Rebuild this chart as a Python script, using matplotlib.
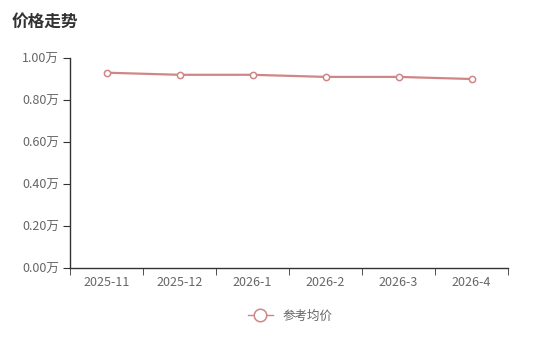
import numpy as np
import matplotlib.pyplot as plt
from matplotlib.ticker import FuncFormatter

plt.rcParams['font.family'] = ['Noto Sans CJK SC', 'DejaVu Sans']

# data (unit: 万)
months = ['2025-11', '2025-12', '2026-1', '2026-2', '2026-3', '2026-4']
price = [0.93, 0.92, 0.92, 0.91, 0.91, 0.90]
yticks = [0.0, 0.2, 0.4, 0.6, 0.8, 1.0]

W, H = 542, 337
fig = plt.figure(figsize=(W / 100, H / 100), dpi=100)
ax = fig.add_axes([70 / W, 1 - 268 / H, (508 - 70) / W, (268 - 58) / H])

x = np.arange(len(months))
line_col = '#d08686'
ax.plot(x, price, color=line_col, linewidth=1.6, marker='o', markersize=4.5,
        markerfacecolor='white', markeredgecolor=line_col, markeredgewidth=1.1,
        label='参考均价', zorder=3)

ax.set_xlim(-0.5, len(months) - 0.5)
ax.set_ylim(0, 1.0)
ax.set_yticks(yticks)
ax.yaxis.set_major_formatter(FuncFormatter(lambda v, p: '{:.2f}万'.format(v)))
ax.set_xticks(x)
ax.set_xticklabels(months)
ax.set_xticks(np.arange(len(months) + 1) - 0.5, minor=True)

for s in ['top', 'right']:
    ax.spines[s].set_visible(False)
for s in ['left', 'bottom']:
    ax.spines[s].set_color('#333333')
    ax.spines[s].set_linewidth(1)

ax.tick_params(axis='y', length=5, color='#333333', labelcolor='#666666', labelsize=9, pad=3)
ax.tick_params(axis='x', which='major', length=0, labelcolor='#666666', labelsize=9, pad=6)
ax.tick_params(axis='x', which='minor', length=5, color='#333333')

fig.text(12 / W, 1 - 22 / H, '价格走势', fontsize=12, fontweight='bold', color='#333333',
         va='center', ha='left')

leg = fig.legend(loc='center', bbox_to_anchor=(290 / W, 1 - 316 / H), frameon=False,
                 fontsize=9, handlelength=2, markerscale=2, labelcolor='#666666')
for h in leg.legend_handles:
    h.set_linewidth(1)

fig.savefig('out.png', dpi=100)
